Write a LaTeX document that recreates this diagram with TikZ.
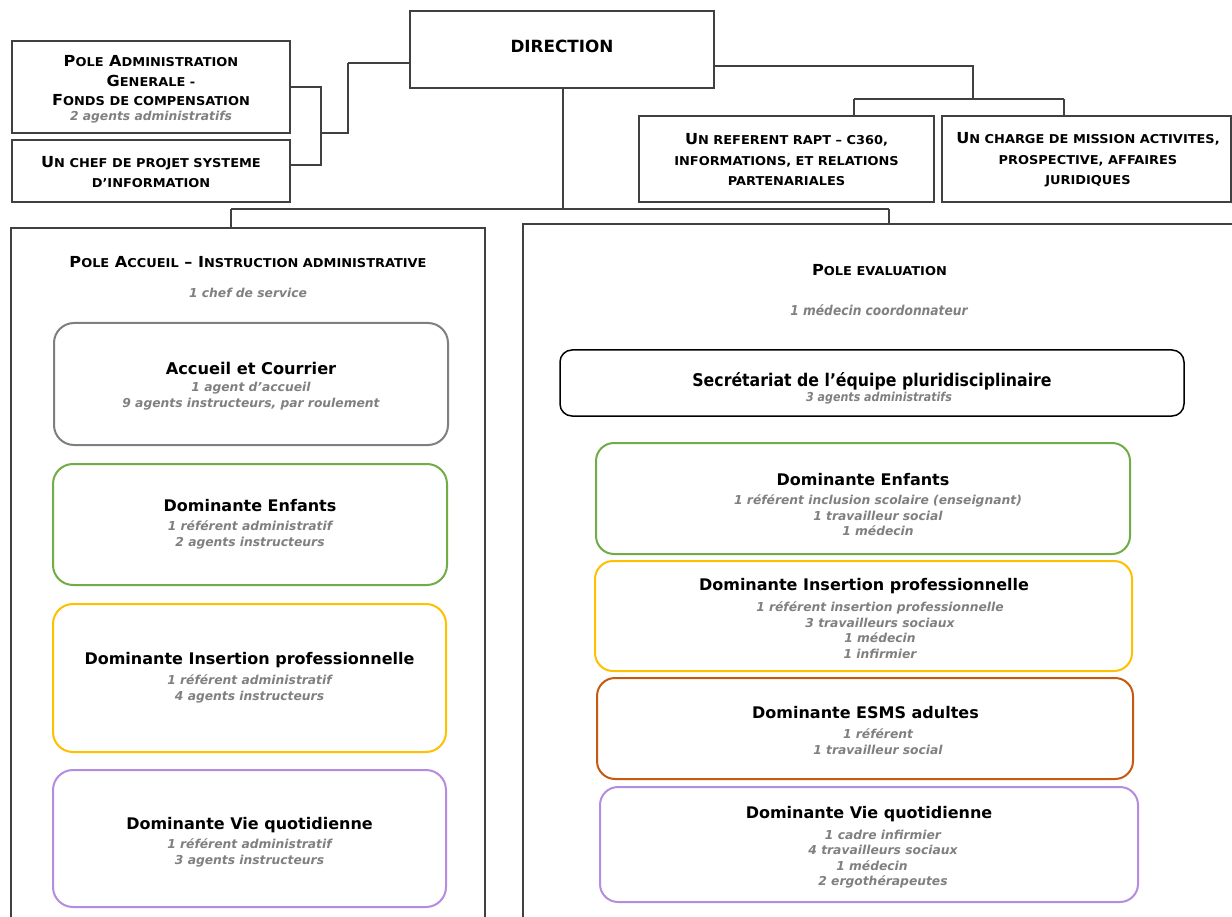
\documentclass[tikz,border=0pt]{standalone}
\usepackage{fontspec}
\setmainfont{DejaVu Sans}[BoldFont={DejaVu Sans Bold},ItalicFont={DejaVu Sans Oblique},BoldItalicFont={DejaVu Sans Bold Oblique}]
\newfontfamily\cfont{DejaVu Sans}[FakeStretch=0.9,BoldFont={DejaVu Sans Bold},ItalicFont={DejaVu Sans Oblique},BoldItalicFont={DejaVu Sans Bold Oblique}]
\newfontfamily\wfont{DejaVu Sans}[FakeStretch=1.06,BoldFont={DejaVu Sans Bold},ItalicFont={DejaVu Sans Oblique},BoldItalicFont={DejaVu Sans Bold Oblique}]
\usetikzlibrary{calc}
\definecolor{lin}{HTML}{404040}
\definecolor{gtxt}{HTML}{808080}
\definecolor{cgreen}{HTML}{70AD47}
\definecolor{cgold}{HTML}{FFC000}
\definecolor{corange}{HTML}{C55A11}
\definecolor{cpurple}{HTML}{B48CE0}
\definecolor{cgray}{HTML}{7F7F7F}
\newcommand\Sc[1]{{\fontsize{12.2}{14}\selectfont #1}}
\begin{document}
\begin{tikzpicture}[x=1pt,y=-1pt,
  box/.style={draw=lin,line width=1.5pt,fill=white,inner sep=0pt},
  rbox/.style={line width=2pt,rounded corners=20pt,inner sep=0pt},
  conn/.style={draw=lin,line width=1.5pt},
  ttl/.style={font=\bfseries\fontsize{16}{18}\selectfont,text=black},
  gry/.style={font=\bfseries\itshape\fontsize{12.3}{16}\selectfont,text=gtxt,align=center},
  gryr/.style={gry,font=\bfseries\itshape\fontsize{12.3}{15.5}\selectfont},
  hdr/.style={font=\wfont\bfseries\fontsize{15.2}{19.5}\selectfont,align=center,text=black}]
\useasboundingbox (0,0) rectangle (1232,917);
\fill[white] (0,0) rectangle (1232,917);
% ---------- top boxes ----------
\node[box,minimum width=304pt,minimum height=77pt] (dir) at (562,49.5) {};
\node[font=\bfseries\fontsize{16.8}{19}\selectfont] (tdir) at (562,46) {DIRECTION};
\node[box,minimum width=278pt,minimum height=92pt] (adm) at (151,87) {};
\node[hdr] (tadm) at (151,81) {P\Sc{OLE} A\Sc{DMINISTRATION}\\G\Sc{ENERALE -}\\F\Sc{ONDS DE COMPENSATION}};
\node[gry] (gadm) at (151,117) {2 agents administratifs};
\node[box,minimum width=278pt,minimum height=62pt] (chef) at (151,171) {};
\node[hdr,font=\wfont\bfseries\fontsize{15.2}{20}\selectfont] (tchef) at (151,172) {U\Sc{N CHEF DE PROJET SYSTEME}\\\Sc{D’INFORMATION}};
\node[box,minimum width=295pt,minimum height=86pt] (ref) at (786.5,159) {};
\node[hdr,font=\wfont\bfseries\fontsize{15.2}{20.5}\selectfont] (tref) at (786.5,160) {U\Sc{N REFERENT RAPT – C360,}\\\Sc{INFORMATIONS, ET RELATIONS}\\\Sc{PARTENARIALES}};
\node[box,minimum width=289pt,minimum height=86pt] (charge) at (1086.5,159) {};
\node[hdr,font=\wfont\bfseries\fontsize{15.2}{20.5}\selectfont] (tcharge) at (1088,160) {U\Sc{N CHARGE DE MISSION ACTIVITES,}\\\Sc{PROSPECTIVE, AFFAIRES}\\\Sc{JURIDIQUES}};
% ---------- poles ----------
\node[box,minimum width=474pt,minimum height=702pt] (poleA) at (248,579) {};
\node[hdr] (tpoleA) at (248,262) {P\Sc{OLE} A\Sc{CCUEIL} – I\Sc{NSTRUCTION ADMINISTRATIVE}};
\node[gry] (gpoleA) at (248,293) {1 chef de service};
\node[box,minimum width=717pt,minimum height=706pt] (poleE) at (881.5,577) {};
\node[hdr] (tpoleE) at (879.5,270) {P\Sc{OLE EVALUATION}};
\node[gry,font=\cfont\bfseries\itshape\fontsize{13.6}{16}\selectfont] (gpoleE) at (879,310) {1 médecin coordonnateur};
% ---------- left pole content ----------
\node[rbox,draw=cgray,minimum width=394pt,minimum height=122pt] (acc) at (251,384) {};
\node[ttl,font=\bfseries\fontsize{16.2}{18}\selectfont] (tacc) at (251,368) {Accueil et Courrier};
\node[gry] (gacc) at (251,396) {1 agent d’accueil\\9 agents instructeurs, par roulement};
\node[rbox,draw=cgreen,minimum width=394pt,minimum height=121pt] (enfL) at (250,524.5) {};
\node[ttl] (tenfL) at (250,506) {Dominante Enfants};
\node[gry] (genfL) at (250,535) {1 référent administratif\\2 agents instructeurs};
\node[rbox,draw=cgold,minimum width=393pt,minimum height=148pt] (insL) at (249.5,678) {};
\node[ttl] (tinsL) at (249.5,660) {Dominante Insertion professionnelle};
\node[gry] (ginsL) at (249.5,688.5) {1 référent administratif\\4 agents instructeurs};
\node[rbox,draw=cpurple,minimum width=393pt,minimum height=137pt] (vieL) at (249.5,838.5) {};
\node[ttl] (tvieL) at (249.5,825) {Dominante Vie quotidienne};
\node[gry] (gvieL) at (249.5,853) {1 référent administratif\\3 agents instructeurs};
% ---------- right pole content ----------
\node[rbox,draw=black,rounded corners=12pt,line width=1.5pt,minimum width=624pt,minimum height=66pt] (sec) at (872,383) {};
\node[ttl,font=\cfont\bfseries\fontsize{17.5}{20}\selectfont] (tsec) at (872,381) {Secrétariat de l’équipe pluridisciplinaire};
\node[gry,font=\cfont\bfseries\itshape\fontsize{12.3}{15}\selectfont] (gsec) at (879,398) {3 agents administratifs};
\node[rbox,draw=cgreen,rounded corners=18pt,minimum width=534pt,minimum height=111pt] (enfR) at (863,498.5) {};
\node[ttl] (tenfR) at (863,480) {Dominante Enfants};
\node[gryr] (genfR) at (878,515.5) {1 référent inclusion scolaire (enseignant)\\1 travailleur social\\1 médecin};
\node[rbox,draw=cgold,rounded corners=18pt,minimum width=537pt,minimum height=110pt] (insR) at (863.5,616) {};
\node[ttl] (tinsR) at (864,586) {Dominante Insertion professionnelle};
\node[gryr] (ginsR) at (880,630) {1 référent insertion professionnelle\\3 travailleurs sociaux\\1 médecin\\1 infirmier};
\node[rbox,draw=corange,rounded corners=18pt,minimum width=536pt,minimum height=101pt] (esms) at (865,728.5) {};
\node[ttl] (tesms) at (865.5,713) {Dominante ESMS adultes};
\node[gryr,font=\bfseries\itshape\fontsize{12.3}{16}\selectfont] (gesms) at (878,742) {1 référent\\1 travailleur social};
\node[rbox,draw=cpurple,rounded corners=18pt,minimum width=538pt,minimum height=115pt] (vieR) at (869,844.5) {};
\node[ttl] (tvieR) at (869,814) {Dominante Vie quotidienne};
\node[gryr] (gvieR) at (883,859) {1 cadre infirmier\\4 travailleurs sociaux\\1 médecin\rule{22pt}{0pt}\\2 ergothérapeutes};
% ---------- connectors ----------
\coordinate (jA) at (321,133);
\coordinate (jB) at (348,63);
\draw[conn] (adm.east) -| (jA);
\draw[conn] ([yshift=6pt]chef.east) -| (jA);
\draw[conn] (jA) -| (jB);
\draw[conn] (jB) -- (jB -| dir.west);
\coordinate (jC) at (563,209);
\coordinate (bL) at (231,209);
\coordinate (bR) at (889,209);
\draw[conn] (dir.south -| jC) -- (jC);
\draw[conn] (bL) -- (bR);
\draw[conn] (bL) -- (bL |- poleA.north);
\draw[conn] (bR) -- (bR |- poleE.north);
\coordinate (jD) at (973,66);
\coordinate (jE) at (973,99);
\coordinate (bRL) at (854,99);
\coordinate (bRR) at (1064,99);
\draw[conn] (jD -| dir.east) -- (jD) -- (jE);
\draw[conn] (bRL) -- (bRR);
\draw[conn] (bRL) -- (bRL |- ref.north);
\draw[conn] (bRR) -- (bRR |- charge.north);
\end{tikzpicture}
\end{document}
